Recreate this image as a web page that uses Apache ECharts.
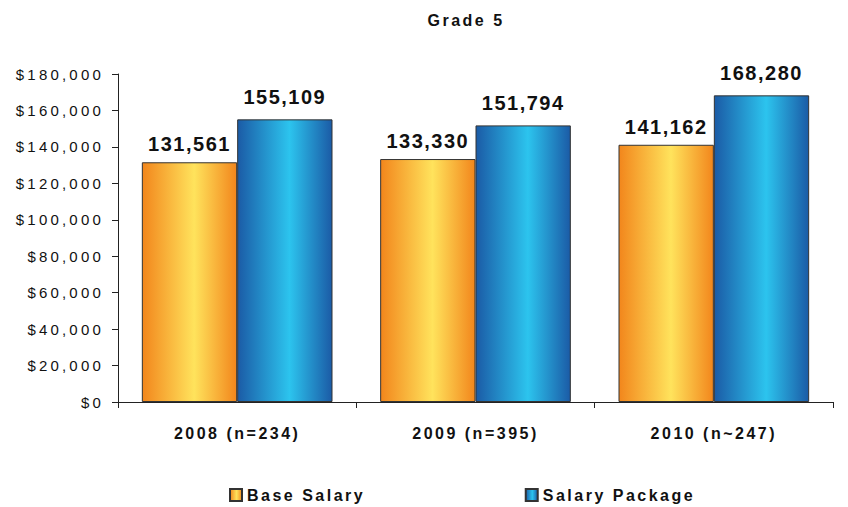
<!DOCTYPE html>
<html><head><meta charset="utf-8">
<script src="https://cdn.jsdelivr.net/npm/echarts@6/dist/echarts.min.js"></script>
<style>
html,body{margin:0;padding:0;background:#fff}
#c{width:848px;height:507px}
#c text[style*="20px"]{letter-spacing:1.5px}
#c text[style*="16px"]{letter-spacing:2.5px}
#c text[style*="15px"]{letter-spacing:3.2px}
</style>
</head><body><div id="c"></div>
<script>
const categories = ['2008 (n=234)', '2009 (n=395)', '2010 (n~247)'];
const baseSalary = [131561, 133330, 141162];
const salaryPackage = [155109, 151794, 168280];
const seriesNames = ['Base Salary', 'Salary Package'];
const titleText = 'Grade 5';

const FONT = 'Liberation Sans';
function grad(edge, mid) {
  return new echarts.graphic.LinearGradient(0, 0, 1, 0, [
    {offset: 0, color: edge}, {offset: 0.55, color: mid}, {offset: 1, color: edge}
  ]);
}
const fmt = v => Number(v).toLocaleString('en-US');
function labelStyle(dist) {
  return {show: true, position: 'top', distance: dist, fontFamily: FONT, fontWeight: 'bold', fontSize: 20, color: '#111', formatter: p => fmt(p.value)};
}

const chart = echarts.init(document.getElementById('c'), null, {renderer: 'svg'});
chart.setOption({
  animation: false,
  title: {text: titleText, left: 461, textAlign: 'center', top: 7, textStyle: {fontFamily: FONT, fontWeight: 'bold', fontSize: 16, color: '#111'}},
  grid: {left: 118, right: 15, top: 74, bottom: 105},
  legend: {
    top: 482, left: 224, itemGap: 187, itemWidth: 12, itemHeight: 12, icon: 'rect',
    textStyle: {fontFamily: FONT, fontWeight: 'bold', fontSize: 16, color: '#111'},
    data: seriesNames
  },
  xAxis: {
    type: 'category', data: categories,
    axisLine: {lineStyle: {color: '#222', width: 1}},
    axisTick: {show: true, alignWithLabel: false, length: 6, lineStyle: {color: '#222'}},
    axisLabel: {margin: 23, fontFamily: FONT, fontWeight: 'bold', fontSize: 16, color: '#111'}
  },
  yAxis: {
    type: 'value', min: 0, max: 180000, interval: 20000,
    axisLine: {show: true, lineStyle: {color: '#222', width: 1}},
    axisTick: {show: true, length: 6, lineStyle: {color: '#222'}},
    splitLine: {show: false},
    axisLabel: {margin: 14, fontFamily: FONT, fontSize: 15, color: '#111', formatter: v => '$' + fmt(v)}
  },
  series: [
    {name: seriesNames[0], type: 'bar', data: baseSalary, barGap: '0%', barCategoryGap: '20%',
     itemStyle: {color: grad('#F2861C', '#FFE35C'), borderColor: '#333', borderWidth: 1}, label: labelStyle(8)},
    {name: seriesNames[1], type: 'bar', data: salaryPackage,
     itemStyle: {color: grad('#1B5BA6', '#2CC4EE'), borderColor: '#333', borderWidth: 1}, label: labelStyle(12)}
  ]
});
</script></body></html>
